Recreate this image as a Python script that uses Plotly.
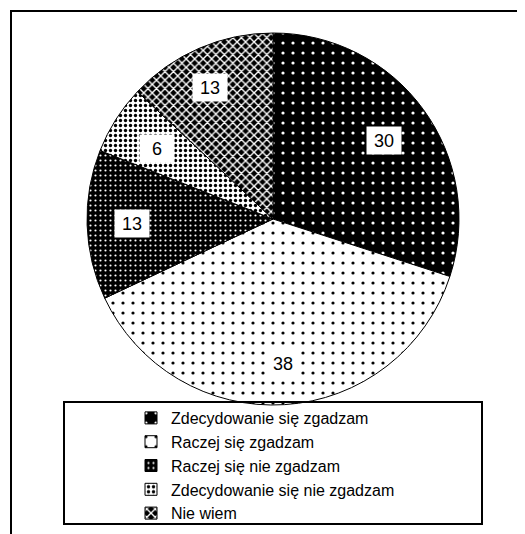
import math
import plotly.graph_objects as go

labels = ["Zdecydowanie się zgadzam", "Raczej się zgadzam", "Raczej się nie zgadzam",
          "Zdecydowanie się nie zgadzam", "Nie wiem"]
values = [30, 38, 13, 6, 13]

W, H = 525, 534
OFF = 8  # page body margin, the figure starts 8px in


def px(x):
    return (x - OFF) / W


def py(y):
    return (H - (y - OFF)) / H


# pie geometry in window pixels
cx, cy, r = 273, 219, 186

pattern = dict(
    shape=[".", ".", ".", ".", "x"],
    bgcolor=["black", "white", "black", "white", "black"],
    fgcolor=["white", "black", "white", "black", "white"],
    size=[10, 10, 5, 5, 6],
    solidity=[0.08, 0.08, 0.15, 0.35, 0.4],
    fillmode="replace",
)

fig = go.Figure()
fig.add_trace(go.Pie(
    labels=labels, values=values, sort=False, direction="clockwise", rotation=0,
    textinfo="none", hoverinfo="skip",
    marker=dict(colors=["black", "white", "black", "white", "black"],
                line=dict(color="black", width=1), pattern=pattern),
    domain=dict(x=[px(cx - r), px(cx + r)], y=[py(cy + r), py(cy - r)]),
))

# value labels in white boxes, at the middle angle of each slice
total = sum(values)
acc = 0
for v in values:
    mid = (acc + v / 2) / total * 2 * math.pi
    acc += v
    lx = cx + 0.855 * r * math.sin(mid)
    ly = cy - 0.855 * r * math.cos(mid)
    fig.add_annotation(x=px(lx), y=py(ly), xref="paper", yref="paper",
                       text=str(v), showarrow=False, bgcolor="white",
                       width=30, height=23, borderpad=2,
                       font=dict(size=18, color="black"))

# outer frame and legend frame
fig.add_shape(type="rect", xref="paper", yref="paper", x0=px(11), x1=px(545),
              y0=py(545), y1=py(11), line=dict(color="black", width=2))
fig.add_shape(type="rect", xref="paper", yref="paper", x0=px(64), x1=px(482),
              y0=py(524), y1=py(402), line=dict(color="black", width=2))

fig.update_layout(
    width=W, height=H, margin=dict(l=0, r=0, t=0, b=0),
    paper_bgcolor="white", plot_bgcolor="white",
    font=dict(family="Liberation Sans, Arial", color="black"),
    legend=dict(x=px(131), y=py(401), xanchor="left", yanchor="top",
                font=dict(size=16), bgcolor="rgba(0,0,0,0)", itemwidth=30),
)

fig.write_html("out.html")
